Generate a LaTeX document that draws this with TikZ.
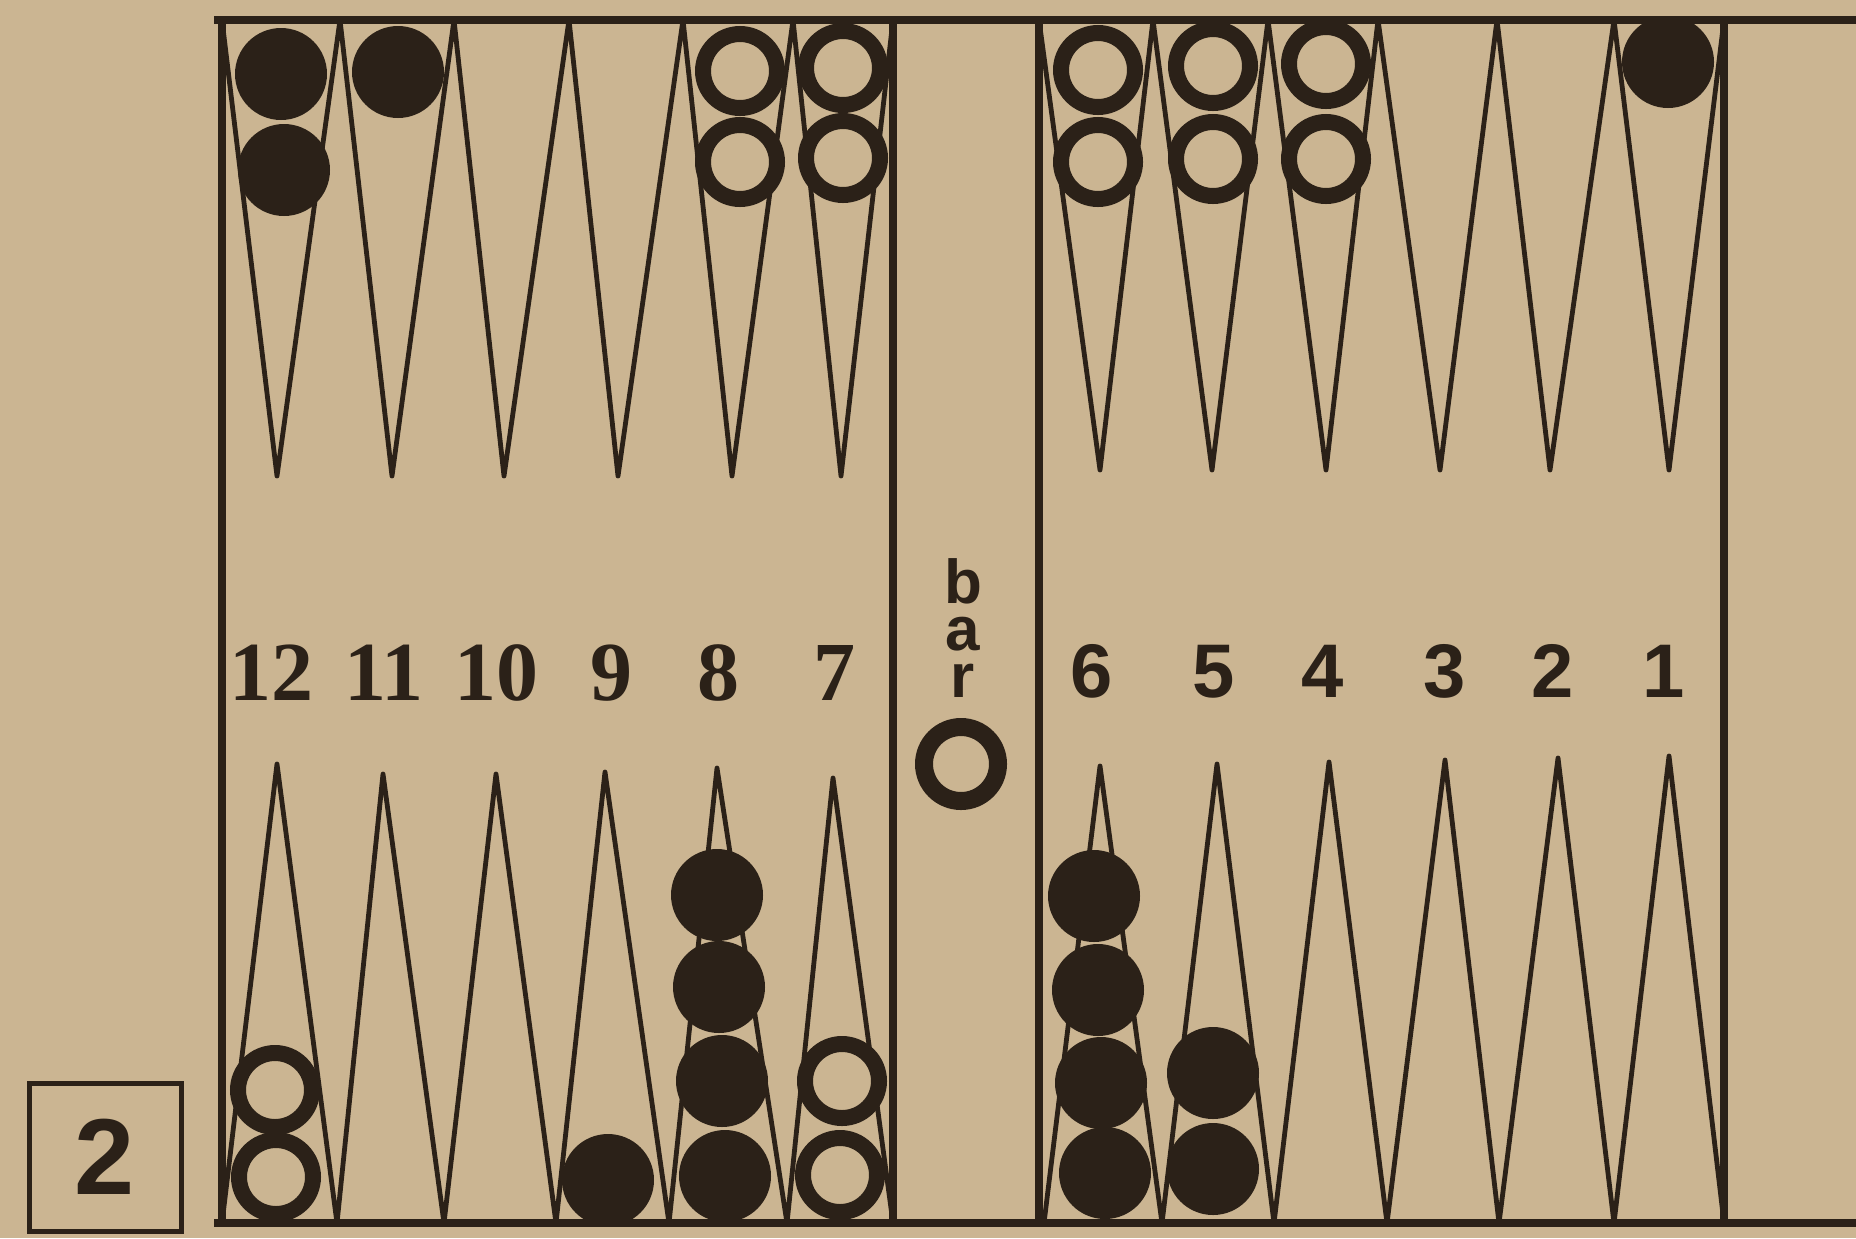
\documentclass[tikz,border=0pt]{standalone}
\usepackage{fontspec}
\setmainfont{Liberation Serif}
\newfontfamily\labserif{Liberation Serif}
\newfontfamily\labsans{Liberation Sans}
\definecolor{paper}{HTML}{CBB592}
\definecolor{ink}{HTML}{2B2118}
\begin{document}
\begin{tikzpicture}[x=0.5pt,y=-0.5pt,
  frameline/.style={draw=ink, line width=4pt, line cap=rect},
  pointline/.style={draw=ink, line width=2.4pt, line join=round},
  blk/.style={circle, fill=ink, inner sep=0pt, minimum size=46pt},
  wht/.style={circle, draw=ink, fill=paper, line width=8pt, inner sep=0pt, minimum size=37pt},
  barring/.style={circle, draw=ink, line width=9pt, inner sep=0pt, minimum size=37pt},
  numL/.style={font=\labserif\bfseries\fontsize{42pt}{42pt}\selectfont, text=ink, anchor=base, inner sep=0pt},
  numR/.style={font=\labsans\bfseries\fontsize{38pt}{38pt}\selectfont, text=ink, anchor=base, inner sep=0pt},
  barlabel/.style={font=\labsans\bfseries\fontsize{31pt}{23.5pt}\selectfont, text=ink, align=center, inner sep=0pt},
  diagbox/.style={draw=ink, line width=2.5pt, minimum width=76pt, minimum height=74pt, inner sep=0pt,
    font=\labsans\bfseries\fontsize{54pt}{54pt}\selectfont, text=ink}]
\useasboundingbox (0,0) rectangle (1856,1238);
\fill[paper] (0,0) rectangle (1856,1238);

% points, top left half
\path[pointline] (222,20) -- (277,476) -- (340,20) -- (392,476) -- (454,20) -- (504,476) -- (569,20)
  -- (618,476) -- (683,20) -- (732,476) -- (793,20) -- (841,476) -- (893,20);
% points, top right half
\path[pointline] (1039,20) -- (1100,470) -- (1153,20) -- (1212,470) -- (1268,20) -- (1326,470) -- (1378,20)
  -- (1440,470) -- (1497,20) -- (1550,470) -- (1614,20) -- (1669,470) -- (1724,20);
% points, bottom left half
\path[pointline] (222,1223) -- (277,764) -- (337,1223) -- (383,774) -- (444,1223) -- (496,774) -- (556,1223)
  -- (605,772) -- (669,1223) -- (717,768) -- (787,1223) -- (833,778) -- (893,1223);
% points, bottom right half
\path[pointline] (1044,1223) -- (1100,766) -- (1162,1223) -- (1217,764) -- (1274,1223) -- (1329,762) -- (1387,1223)
  -- (1445,760) -- (1499,1223) -- (1558,758) -- (1614,1223) -- (1669,756) -- (1724,1223);

% frame
\path[frameline] (218,20) -- (1856,20);
\path[frameline] (218,1223) -- (1856,1223);
\path[frameline] (222,20) -- (222,1223);
\path[frameline] (893,20) -- (893,1223);
\path[frameline] (1039,20) -- (1039,1223);
\path[frameline] (1724,20) -- (1724,1223);

% checkers, top left
\node[blk] (t12a) at (281,74) {};
\node[blk] (t12b) at (284,170) {};
\node[blk] (t11a) at (398,72) {};
\node[wht] (t8a) at (740,71) {};
\node[wht] (t8b) at (740,162) {};
\node[wht] (t7a) at (843,68) {};
\node[wht] (t7b) at (843,158) {};
% checkers, top right
\node[wht] (t6a) at (1098,70) {};
\node[wht] (t6b) at (1098,162) {};
\node[wht] (t5a) at (1213,66) {};
\node[wht] (t5b) at (1213,159) {};
\node[wht] (t4a) at (1326,64) {};
\node[wht] (t4b) at (1326,159) {};
\node[blk] (t1a) at (1668,62) {};
% checkers, bottom left
\node[wht] (b12a) at (275,1090) {};
\node[wht] (b12b) at (276,1177) {};
\node[blk] (b9a) at (608,1180) {};
\node[blk] (b8a) at (717,895) {};
\node[blk] (b8b) at (719,987) {};
\node[blk] (b8c) at (722,1081) {};
\node[blk] (b8d) at (725,1176) {};
\node[wht] (b7a) at (842,1081) {};
\node[wht] (b7b) at (840,1175) {};
% checkers, bottom right
\node[blk] (b6a) at (1094,896) {};
\node[blk] (b6b) at (1098,990) {};
\node[blk] (b6c) at (1101,1083) {};
\node[blk] (b6d) at (1105,1173) {};
\node[blk] (b5a) at (1213,1073) {};
\node[blk] (b5b) at (1213,1169) {};
% checker on the bar
\node[barring] (barchk) at (961,764) {};

% point numbers
\node[numL] (n12) at (271,700) {12};
\node[numL] (n11) at (384,700) {11};
\node[numL] (n10) at (496,700) {10};
\node[numL] (n9) at (611,700) {9};
\node[numL] (n8) at (718,700) {8};
\node[numL] (n7) at (834,700) {7};
\node[numR] (n6) at (1092,697) {6};
\node[numR] (n5) at (1214,697) {5};
\node[numR] (n4) at (1323,697) {4};
\node[numR] (n3) at (1445,697) {3};
\node[numR] (n2) at (1553,697) {2};
\node[numR] (n1) at (1664,697) {1};

% bar label
\node[barlabel] (barlab) at (963,628) {b\\a\\r};

% diagram number
\node[diagbox] (dnum) at (105,1157) {2};
\end{tikzpicture}
\end{document}
